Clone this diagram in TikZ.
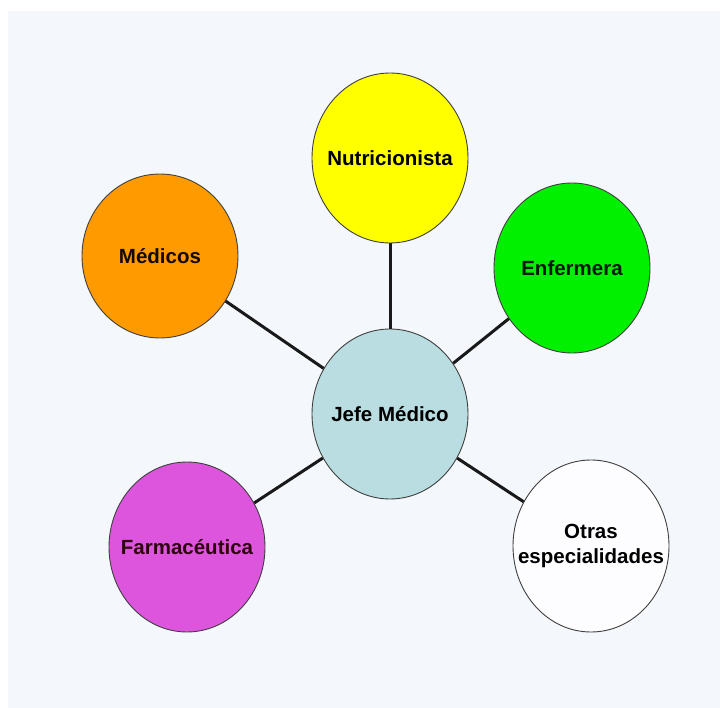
\documentclass[tikz,border=0pt]{standalone}
\usepackage{fontspec}
\setmainfont{Liberation Sans}
\usetikzlibrary{shapes.geometric}
\definecolor{bgc}{HTML}{F4F7FB}
\definecolor{cmed}{HTML}{FF9A00}
\definecolor{cnut}{HTML}{FFFF00}
\definecolor{cenf}{HTML}{00F000}
\definecolor{cjef}{HTML}{B9DDE0}
\definecolor{cfar}{HTML}{DD55DD}
\definecolor{cotr}{HTML}{FDFDFF}
\tikzset{
  bubble/.style={ellipse, draw=black!75, line width=0.9pt, minimum width=156pt, minimum height=170pt, inner sep=0pt},
  btext/.style={align=center, inner sep=0pt, font=\fontsize{20.5}{25}\selectfont\bfseries},
  link/.style={line width=3pt, draw=black!90}
}
\begin{document}
\begin{tikzpicture}[x=1pt,y=-1pt]
\useasboundingbox (0,0) rectangle (720,708);
\fill[white] (0,0) rectangle (720,708);
\fill[bgc] (8,11) rectangle (720,708);
\node[bubble, fill=cjef] (jef) at (390,414) {};
\node[bubble, fill=cnut] (nut) at (390,158) {};
\node[bubble, fill=cmed, minimum height=164pt] (med) at (160,256) {};
\node[bubble, fill=cenf] (enf) at (572,268) {};
\node[bubble, fill=cfar] (far) at (187,547) {};
\node[bubble, fill=cotr, minimum height=172pt] (otr) at (591,546) {};
\node[btext] (tjef) at (jef.center) {Jefe Médico};
\node[btext] (tnut) at (nut.center) {Nutricionista};
\node[btext, text=black!80!orange!40!black] (tmed) at (med.center) {Médicos};
\node[btext, text=black!80!green!50!black] (tenf) at (enf.center) {Enfermera};
\node[btext, text=black!75!purple] (tfar) at (far.center) {Farmacéutica};
\node[btext] (totr) at (otr.center) {Otras\\especialidades};
\foreach \n in {nut,med,enf,far,otr}{
  \draw[link] (jef) -- (\n);
}
\end{tikzpicture}
\end{document}
